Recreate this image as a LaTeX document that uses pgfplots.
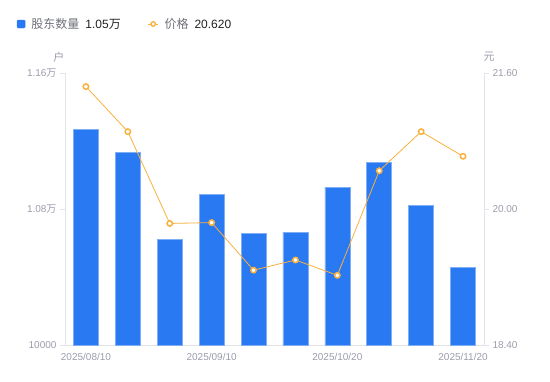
\documentclass[border=0pt]{standalone}
\usepackage{fontspec}
\setmainfont{Liberation Sans}
\newfontfamily\cjk{Noto Sans CJK SC}
\usepackage{pgfplots}
\pgfplotsset{compat=1.18}
\definecolor{barblue}{HTML}{2979F2}
\definecolor{baredge}{HTML}{7FAEF7}
\definecolor{lineorange}{HTML}{FAB03C}
\definecolor{tickgray}{HTML}{9A9CAB}
\definecolor{axgray}{HTML}{E3E4E8}
\definecolor{legtext}{HTML}{6E7079}
\definecolor{legval}{HTML}{222222}
\pgfplotstableread{
x holders price
1 11270 21.44
2 11131 20.91
3 10622 19.83
4 10887 19.84
5 10658 19.28
6 10664 19.40
7 10929 19.22
8 11076 20.45
9 10823 20.91
10 10458 20.62
}\datatable
\begin{document}
\begin{tikzpicture}[x=1pt,y=1pt]
\useasboundingbox (-65,-36) rectangle (485,345);
\pgfplotsset{
  common/.style={
    at={(0,0)}, anchor=south west, scale only axis,
    width=419pt, height=272pt,
    xmin=0.5, xmax=10.5,
    scaled y ticks=false,
    /pgf/number format/assume math mode=true,
    tick label style={font=\fontsize{10}{12}\selectfont, text=tickgray},
    axis line style={axgray, line width=0.8pt},
    tick align=outside, major tick length=5pt,
    major y tick style={axgray, line width=0.8pt},
    major x tick style={draw=none},
  }
}
\begin{axis}[common,
  ymin=10000, ymax=11600,
  axis x line*=bottom, axis y line*=left,
  xtick={1,4,7,10},
  xticklabels={2025/08/10,2025/09/10,2025/10/20,2025/11/20},
  ytick={10000,10800,11600},
  yticklabels={10000,1.08{\cjk 万},1.16{\cjk 万}},
  clip=false,
]
\addplot[ybar, bar width=25pt, fill=barblue, draw=baredge, line width=0.6pt] table[x=x, y=holders] {\datatable};
\node[font=\cjk\fontsize{11}{12}\selectfont, text=tickgray] at ([xshift=-6pt,yshift=16pt]rel axis cs:0,1) {户};
\end{axis}
\begin{axis}[common,
  ymin=18.4, ymax=21.6,
  axis x line=none, axis y line*=right,
  xtick=\empty,
  ytick={18.4,20,21.6},
  yticklabels={18.40,20.00,21.60},
  clip=false,
  legend columns=2,
  legend style={at={(0,1)}, anchor=west, xshift=-48pt, yshift=49pt,
    draw=none, fill=none, inner sep=0pt, outer sep=0pt,
    font=\fontsize{12}{14}\selectfont,
    nodes={inner sep=0pt},
    /tikz/every odd column/.append style={column sep=6pt},
    /tikz/every even column/.append style={column sep=27pt}},
]
\addlegendimage{legend image code/.code={\fill[barblue, rounded corners=1pt] (0pt,-4pt) rectangle (8pt,4pt);}}
\addlegendentry{{\cjk\color{legtext}股东数量}\hspace{6pt}{\color{legval}1.05{\cjk 万}}}
\addplot[lineorange, line width=0.8pt, mark=*, mark size=2.7pt,
  mark options={fill=white, draw=lineorange, line width=1.5pt},
  legend image code/.code={\draw[lineorange, line width=0.8pt] (0pt,0pt) -- (10pt,0pt);
    \draw[lineorange, fill=white, line width=1.3pt] (5pt,0pt) circle (2.3pt);}]
  table[x=x, y=price] {\datatable};
\addlegendentry{{\cjk\color{legtext}价格}\hspace{6pt}{\color{legval}20.620}}
\node[font=\cjk\fontsize{11}{12}\selectfont, text=tickgray] at ([xshift=5pt,yshift=16pt]rel axis cs:1,1) {元};
\end{axis}
\end{tikzpicture}
\end{document}
